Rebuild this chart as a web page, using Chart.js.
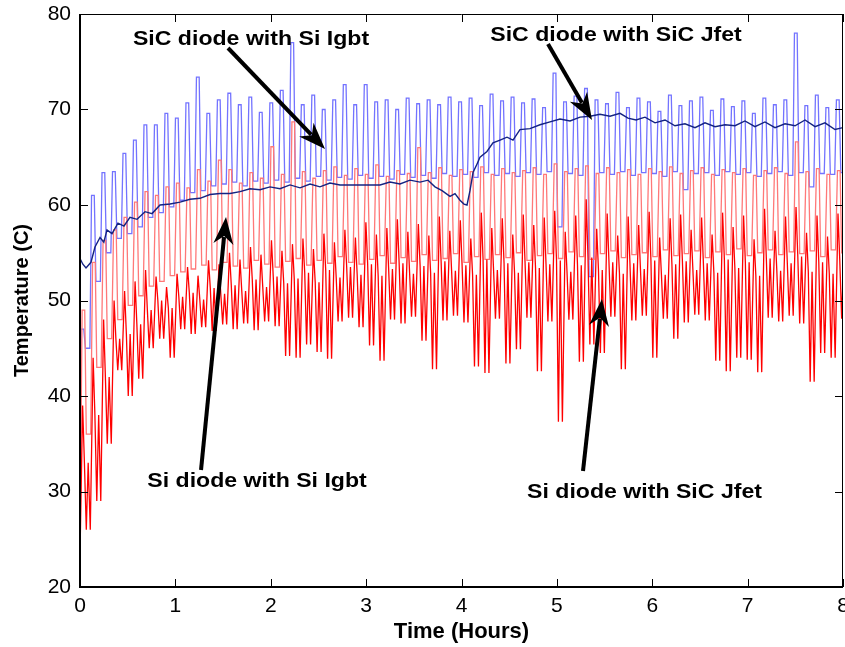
<!DOCTYPE html>
<html>
<head>
<meta charset="utf-8">
<script src="https://cdn.jsdelivr.net/npm/chart.js@4.4.1/dist/chart.umd.min.js"></script>
<style>
html,body{margin:0;padding:0;background:#fff;}
#wrap{width:845px;height:647px;position:relative;}
</style>
</head>
<body>
<div id="wrap"><canvas id="tempChart"></canvas></div>
<script>
// one switching cycle (hours)
const period = 0.11;

// SiC diode with Si Igbt (light blue) - peak / trough per cycle
const blueStart = 26;
const blueHi = [47, 61, 63.4, 63.5, 65.4, 66.8, 68.4, 68.4, 69.6, 69.1,
  70.7, 73.4, 69.6, 71, 71.7, 70.5, 71.3, 69.7, 70.7, 72,
  77, 70.5, 71.5, 70, 71, 72.6, 70.5, 72.6, 70.8, 71,
  70, 71.2, 70.6, 71, 70.5, 71.3, 70.8, 71.2, 70.4, 71.6,
  70.9, 71.3, 70.7, 71.1, 70.2, 73.8, 70.8, 71.4, 72.2, 71,
  70.6, 71.8, 70.2, 71.2, 70.8, 69.8, 71.5, 70.4, 70.9, 71.3,
  69.9, 71.1, 70.3, 70.9, 69.6, 71.2, 70.5, 71, 78, 70.4,
  71.5, 70.2, 71];
const blueLo = [45, 52, 55, 56.5, 57, 57.7, 58.7, 59.2, 59.8, 60.5,
  61.3, 61.5, 62, 62.2, 62.4, 62, 62.5, 62.3, 62.6, 62.4,
  62.8, 62.5, 63, 62.6, 62.9, 62.7, 63.1, 62.8, 63, 62.7,
  63.2, 62.9, 63.1, 62.8, 63.3, 63, 63.2, 62.9, 63.4, 63.1,
  63.3, 63, 63.4, 63.2, 63.5, 57.7, 63.3, 63.1, 52.5, 63.4,
  63.2, 63.5, 63.1, 63.4, 63.3, 63, 63.5, 61.6, 63.3, 63.4,
  63.1, 63.5, 63.2, 63.4, 63, 63.3, 63.5, 63.1, 63.4, 61.9,
  63.3, 63.2, 63.4];

// Si diode with Si Igbt (light red)
const pinkStart = 24;
const pinkHi = [49, 54, 56.3, 57.4, 58.7, 60.3, 61.4, 61, 61.9, 62.3,
  61.8, 63.7, 62.5, 64.7, 63.7, 62.3, 63.4, 62.8, 66.1, 63.2,
  68.7, 63.5, 62.8, 63.6, 64, 63.1, 63.8, 63.2, 64.2, 63,
  63.6, 63.3, 66, 63.4, 63.9, 63.1, 63.7, 63.5, 64, 63.2,
  63.8, 63.4, 63.6, 63.9, 63.2, 64.3, 63.5, 63.8, 64.1, 63.3,
  63.9, 63.4, 63.7, 63.2, 63.8, 63.5, 64, 63.3, 63.6, 63.9,
  63.2, 63.7, 63.4, 63.8, 63.1, 63.6, 63.9, 63.3, 66.6, 63.5,
  63.8, 63.2, 63.6];
const pinkLo = [36, 43, 46, 48, 49.5, 50.5, 51.5, 52, 52.6, 53,
  53.3, 53.7, 53.2, 54, 53.6, 53.4, 54.2, 53.8, 53.5, 54.1,
  54.4, 53.7, 54.2, 53.9, 54.6, 54, 53.8, 54.3, 54.7, 53.9,
  54.5, 54.1, 54.8, 54.2, 54.4, 54.9, 54, 54.6, 54.3, 54.8,
  54.5, 55, 54.2, 54.7, 54.9, 54.4, 55.1, 54.6, 54.3, 54.9,
  55.2, 54.5, 54.8, 55, 54.6, 55.3, 54.7, 54.9, 55.2, 54.5,
  55.1, 54.8, 55.4, 54.7, 55, 55.3, 54.8, 55.1, 54.9, 55.2,
  54.6, 55.3, 55];

// Si diode with SiC Jfet (red): peak, shoulder and trough per cycle
const redStart = 23.4;
const redHi = [39, 44, 48, 50, 51, 52, 53.2, 52.5, 51.4, 52.8,
  53.5, 52.6, 54.2, 53.8, 55, 54.3, 55.6, 54.8, 56.3, 55.2,
  55.9, 56.5, 55.4, 57, 56.1, 57.4, 56.6, 58.2, 56.9, 57.6,
  58.5, 57.2, 58, 56.8, 58.8, 57.3, 58.4, 56.5, 59.2, 57.6,
  58.6, 56.9, 59, 57.9, 58.7, 59.4, 57.2, 58.9, 60.6, 57.5,
  59.1, 56.8, 58.8, 57.9, 59.3, 56.6, 58.6, 59, 57.4, 58.7,
  56.9, 59.2, 57.7, 58.9, 56.4, 59.6, 57.3, 58.8, 59.8, 57.1,
  58.9, 56.7, 59.1];
const redMid = [33, 38, 42, 46, 46.5, 47.5, 49, 50, 49.2, 50.4,
  50.8, 50.1, 51.3, 50.7, 51.6, 51, 52.2, 51.4, 52.5, 51.8,
  52.3, 52.9, 51.9, 53.2, 52.4, 53.5, 52.7, 53.8, 52.6, 53.3,
  53.9, 52.8, 53.6, 52.9, 54.1, 53.1, 53.7, 52.7, 54.3, 53.2,
  53.9, 52.9, 54, 53.4, 53.8, 54.2, 53, 53.7, 54.5, 53.2,
  54, 52.8, 53.9, 53.3, 54.2, 52.7, 53.8, 54.1, 53.2, 53.9,
  52.9, 54.3, 53.4, 54, 52.6, 54.4, 53.1, 53.9, 54.6, 53,
  54, 52.8, 54.2];
const redLo = [26, 29, 35, 42.7, 40, 41.8, 45, 46, 44, 47,
  46.5, 47.2, 46.8, 47.5, 47, 47.6, 46.9, 47.8, 47.3, 44.2,
  44, 45.4, 44.6, 43.9, 47.8, 48.2, 47.2, 45.3, 43.7, 48,
  47.6, 48.3, 45.8, 42.8, 47.9, 48.4, 47.7, 43.1, 42.4, 48.1,
  43.4, 44.9, 48.2, 42.6, 47.8, 37.3, 48, 43.6, 45.4, 44.5,
  48.3, 42.8, 47.9, 48.4, 44, 48.1, 46, 47.7, 48.5, 47.9,
  43.7, 42.6, 44, 43.8, 42.5, 48.2, 47.8, 48.4, 47.6, 41.5,
  44.5, 44, 48.1];

// SiC diode with SiC Jfet (dark blue)
const navyT = [0, 0.03, 0.063, 0.115, 0.157, 0.21, 0.25, 0.283, 0.336, 0.398,
  0.461, 0.524, 0.598, 0.682, 0.755, 0.839, 0.944, 1.049, 1.153, 1.258,
  1.363, 1.468, 1.573, 1.678, 1.782, 1.887, 1.992, 2.097, 2.202, 2.307,
  2.412, 2.516, 2.621, 2.726, 2.936, 3.146, 3.25, 3.355, 3.46, 3.565,
  3.649, 3.722, 3.796, 3.879, 3.932, 3.984, 4.026, 4.058, 4.089, 4.121,
  4.163, 4.194, 4.267, 4.33, 4.404, 4.477, 4.54, 4.613, 4.718, 4.823,
  4.928, 5.033, 5.138, 5.243, 5.348, 5.452, 5.557, 5.662, 5.746, 5.83,
  5.924, 6.029, 6.134, 6.238, 6.343, 6.448, 6.553, 6.658, 6.763, 6.868,
  6.972, 7.077, 7.182, 7.287, 7.392, 7.497, 7.602, 7.707, 7.811, 7.916, 8.0];
const navyV = [54.4, 53.8, 53.4, 54, 55.6, 56.6, 56.1, 57.4, 57, 58.1,
  57.8, 58.7, 58.5, 59.3, 59.1, 60, 60.1, 60.3, 60.6, 60.7,
  61.1, 61.2, 61.2, 61.4, 61.7, 61.6, 61.9, 61.7, 62.1, 61.8,
  62.2, 61.9, 62.3, 62.1, 62.1, 62.1, 62.4, 62.2, 62.6, 62.4,
  62.6, 61.9, 61.5, 60.9, 61.2, 60.5, 60.1, 60, 61.5, 63.4,
  64.3, 65, 65.6, 66.5, 66.8, 67.1, 66.8, 67.9, 68, 68.4,
  68.7, 69, 68.8, 69.2, 69.3, 69.5, 69.3, 69.6, 69.1, 68.9,
  69.2, 68.6, 68.9, 68.3, 68.5, 68.1, 68.6, 68.2, 68.4, 68.3,
  68.8, 68.2, 68.7, 68.1, 68.5, 68.3, 68.9, 68.2, 68.6, 67.9, 68.1];

// arrow labels, in data units (hours, deg C)
const notes = [
  {text:'SiC diode with Si Igbt', tx:1.793, ty:77.4, x0:1.552, y0:76.44, x1:2.569, y1:65.86},
  {text:'SiC diode with SiC Jfet', tx:5.62, ty:77.75, x0:4.907, y0:76.86, x1:5.368, y1:68.9},
  {text:'Si diode with Si Igbt', tx:1.856, ty:31.1, x0:1.269, y0:32.25, x1:1.531, y1:58.74},
  {text:'Si diode with SiC Jfet', tx:5.919, ty:29.9, x0:5.274, y0:32.15, x1:5.473, y1:50.16}
];

// place each cycle's values at fixed fractions of the cycle
function cycles(start, rows, shape){
  const pts = [{x:0, y:start}];
  for (let i = 0; i < rows[0].length; i++) {
    const t0 = i * period;
    shape.forEach(([f, r]) => pts.push({x:t0 + f*period, y:rows[r][i]}));
  }
  return pts;
}

const FONT = '"Liberation Sans", Arial, sans-serif';

const frame = {
  id:'frame',
  afterDatasetsDraw(chart){
    const {ctx, chartArea:a, scales:{x, y}} = chart;
    ctx.save();
    ctx.strokeStyle = '#000';
    ctx.lineWidth = 1;
    ctx.beginPath();
    ctx.moveTo(a.left, a.top + 0.5); ctx.lineTo(a.right, a.top + 0.5);
    ctx.moveTo(a.right - 0.5, a.top); ctx.lineTo(a.right - 0.5, a.bottom);
    x.ticks.forEach(t => {
      const p = Math.round(x.getPixelForValue(t.value)) + 0.5;
      ctx.moveTo(p, a.bottom); ctx.lineTo(p, a.bottom - 8);
      ctx.moveTo(p, a.top); ctx.lineTo(p, a.top + 8);
    });
    y.ticks.forEach(t => {
      const p = Math.round(y.getPixelForValue(t.value)) + 0.5;
      ctx.moveTo(a.left, p); ctx.lineTo(a.left + 8, p);
      ctx.moveTo(a.right, p); ctx.lineTo(a.right - 8, p);
    });
    ctx.stroke();
    ctx.lineWidth = 2;
    ctx.beginPath();
    ctx.moveTo(a.left, a.top); ctx.lineTo(a.left, a.bottom); ctx.lineTo(a.right, a.bottom);
    ctx.stroke();

    // arrows and their labels
    notes.forEach(n => {
      const x0 = x.getPixelForValue(n.x0), y0 = y.getPixelForValue(n.y0);
      const x1 = x.getPixelForValue(n.x1), y1 = y.getPixelForValue(n.y1);
      const ang = Math.atan2(y1 - y0, x1 - x0);
      const c = Math.cos(ang), s = Math.sin(ang);
      const hl = 24, hw = 10;
      const bx = x1 - hl*c, by = y1 - hl*s;
      ctx.strokeStyle = '#000';
      ctx.lineWidth = 4;
      ctx.beginPath();
      ctx.moveTo(x0, y0); ctx.lineTo(bx + 4*c, by + 4*s);
      ctx.stroke();
      ctx.fillStyle = '#000';
      ctx.beginPath();
      ctx.moveTo(x1, y1);
      ctx.lineTo(bx - hw*s - 3*c, by + hw*c - 3*s);
      ctx.lineTo(bx + 5*c, by + 5*s);
      ctx.lineTo(bx + hw*s - 3*c, by - hw*c - 3*s);
      ctx.closePath();
      ctx.fill();

      const tx = x.getPixelForValue(n.tx), ty = y.getPixelForValue(n.ty);
      ctx.save();
      ctx.translate(tx, ty);
      ctx.scale(1.1, 1);
      ctx.font = 'bold 21px ' + FONT;
      ctx.textAlign = 'center';
      ctx.textBaseline = 'middle';
      ctx.fillText(n.text, 0, 0);
      ctx.restore();
    });
    ctx.restore();
  }
};

const chart = new Chart(document.getElementById('tempChart'), {
  type:'line',
  data:{
    datasets:[
      {label:'SiC diode with SiC Jfet', data:navyT.map((t, i) => ({x:t, y:navyV[i]})),
        borderColor:'rgb(20,35,130)', borderWidth:1.4, order:0},
      {label:'Si diode with SiC Jfet',
        data:cycles(redStart, [redHi, redMid, redLo], [[0.25,0],[0.42,1],[0.6,2],[0.78,1],[0.98,2]]),
        borderColor:'rgb(255,0,0)', borderWidth:1.3, order:1},
      {label:'Si diode with Si Igbt',
        data:cycles(pinkStart, [pinkHi, pinkLo], [[0.2,0],[0.45,0],[0.6,1],[1.02,1]]),
        borderColor:'rgb(255,120,120)', borderWidth:1.3, order:2},
      {label:'SiC diode with Si Igbt',
        data:cycles(blueStart, [blueHi, blueLo], [[0.1,0],[0.36,0],[0.52,1],[0.94,1]]),
        borderColor:'rgb(115,115,255)', borderWidth:1.3, order:3}
    ]
  },
  options:{
    responsive:true,
    maintainAspectRatio:false,
    animation:false,
    layout:{padding:{top:14, right:2, left:0, bottom:0}},
    plugins:{legend:{display:false}, tooltip:{enabled:false}},
    elements:{point:{radius:0}, line:{tension:0, fill:false}},
    scales:{
      x:{
        type:'linear', min:0, max:8,
        grid:{display:false, drawTicks:false},
        border:{display:false},
        ticks:{stepSize:1, padding:7, color:'#000', maxRotation:0, autoSkip:false,
          font:{family:FONT, size:21}},
        title:{display:true, text:'Time (Hours)', color:'#000',
          font:{family:FONT, size:22, weight:'bold'}, padding:{top:0, bottom:2}},
        afterFit(s){ s.height = 60; s.paddingLeft = 0; s.paddingRight = 0; }
      },
      y:{
        min:20, max:80,
        grid:{display:false, drawTicks:false},
        border:{display:false},
        ticks:{stepSize:10, padding:9, color:'#000', font:{family:FONT, size:21}},
        title:{display:true, text:'Temperature (C)', color:'#000',
          font:{family:FONT, size:20, weight:'bold'}, padding:{top:10, bottom:0}},
        afterFit(s){ s.width = 80; s.paddingTop = 0; s.paddingBottom = 0; }
      }
    }
  },
  plugins:[frame]
});
</script>
</body>
</html>
